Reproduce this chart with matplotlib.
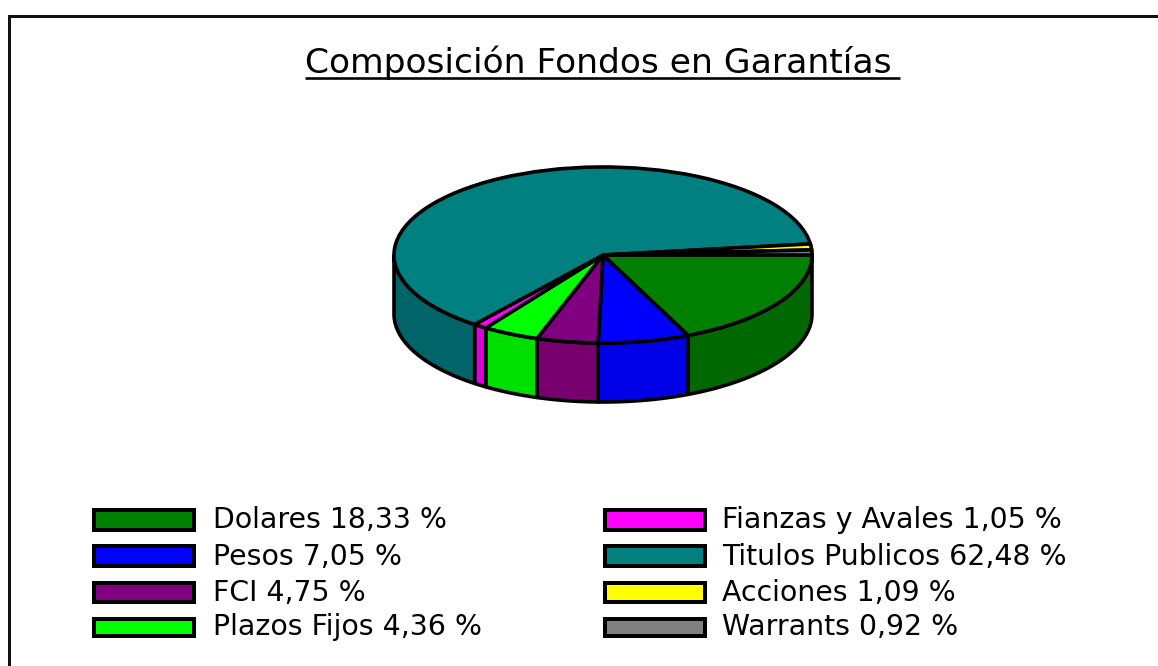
import numpy as np
import matplotlib
matplotlib.use("Agg")
import matplotlib.pyplot as plt
from matplotlib.patches import Rectangle

title = "Composición Fondos en Garantías"
names = ["Dolares", "Pesos", "FCI", "Plazos Fijos", "Fianzas y Avales", "Titulos Publicos", "Acciones", "Warrants"]
labels_pct = ["18,33 %", "7,05 %", "4,75 %", "4,36 %", "1,05 %", "62,48 %", "1,09 %", "0,92 %"]
values = [18.33, 7.05, 4.75, 4.36, 1.05, 62.48, 1.09, 0.92]
top_colors = ["#008000", "#0000ff", "#800080", "#00ff00", "#ff00ff", "#008080", "#ffff00", "#808080"]
side_colors = ["#006800", "#0000e6", "#78006e", "#00e000", "#dc00dc", "#006468", "#c8c800", "#686868"]

W, H = 1158, 666
CX, CY, RX, RY, DEPTH = 603, 255, 209, 88, 59
LW = 3.6 * 72 / 100

fig = plt.figure(figsize=(W / 100, H / 100), dpi=100, facecolor="white")

# Pie axes: one data unit = one radius, so the circle of the pie projects to an ellipse
ax = fig.add_axes([0, 0, 1, 1])
ax.pie(values, startangle=0, counterclock=False, radius=1, center=(0, 0), colors=top_colors,
       wedgeprops=dict(edgecolor="black", linewidth=LW, zorder=5), normalize=True)
ax.set_aspect("auto")
ax.set_xlim(-CX / RX, (W - CX) / RX)
ax.set_ylim((CY - H) / RY, CY / RY)
ax.axis("off")

# Front wall of the pie, from the same values
d = DEPTH / RY
bounds = np.cumsum([0] + values) / sum(values) * 180 * 2
for a0, a1, col in zip(bounds[:-1], bounds[1:], side_colors):
    a1c = min(a1, 180)
    if a0 >= 180:
        continue
    t = np.radians(np.linspace(a0, a1c, 60))
    x, y = np.cos(t), -np.sin(t)
    ax.fill(np.r_[x, x[::-1]], np.r_[y, y[::-1] - d], facecolor=col, edgecolor="black",
            linewidth=LW, zorder=2, joinstyle="round")

# Overlay in pixel coordinates for frame, title and legend
ov = fig.add_axes([0, 0, 1, 1], facecolor="none")
ov.set_xlim(0, W)
ov.set_ylim(H, 0)
ov.axis("off")
ov.plot([9, 9, W], [H, 16, 16], color="#111111", lw=3.0 * 72 / 100, solid_joinstyle="miter")

ov.text(305, 73, title, ha="left", va="baseline", fontsize=24.8, family="DejaVu Sans",
        color="black")
ov.plot([305, 900], [78, 78], color="black", lw=2.6 * 72 / 100, solid_capstyle="butt")

rows = [(508, 24, 528), (544, 24, 565), (581, 23, 601), (617, 21, 635)]
cols = [(94, 213), (605, 722)]
for i, (n, p, c) in enumerate(zip(names, labels_pct, top_colors)):
    col = cols[i // 4]
    y, h, ty = rows[i % 4]
    ov.add_patch(Rectangle((col[0], y + 2), 100, h - 4, facecolor=c, edgecolor="black",
                           linewidth=4 * 72 / 100, joinstyle="miter"))
    ov.text(col[1], ty, f"{n} {p}", ha="left", va="baseline", fontsize=20.4,
            family="DejaVu Sans", color="black")

fig.savefig("out.png", dpi=100)
